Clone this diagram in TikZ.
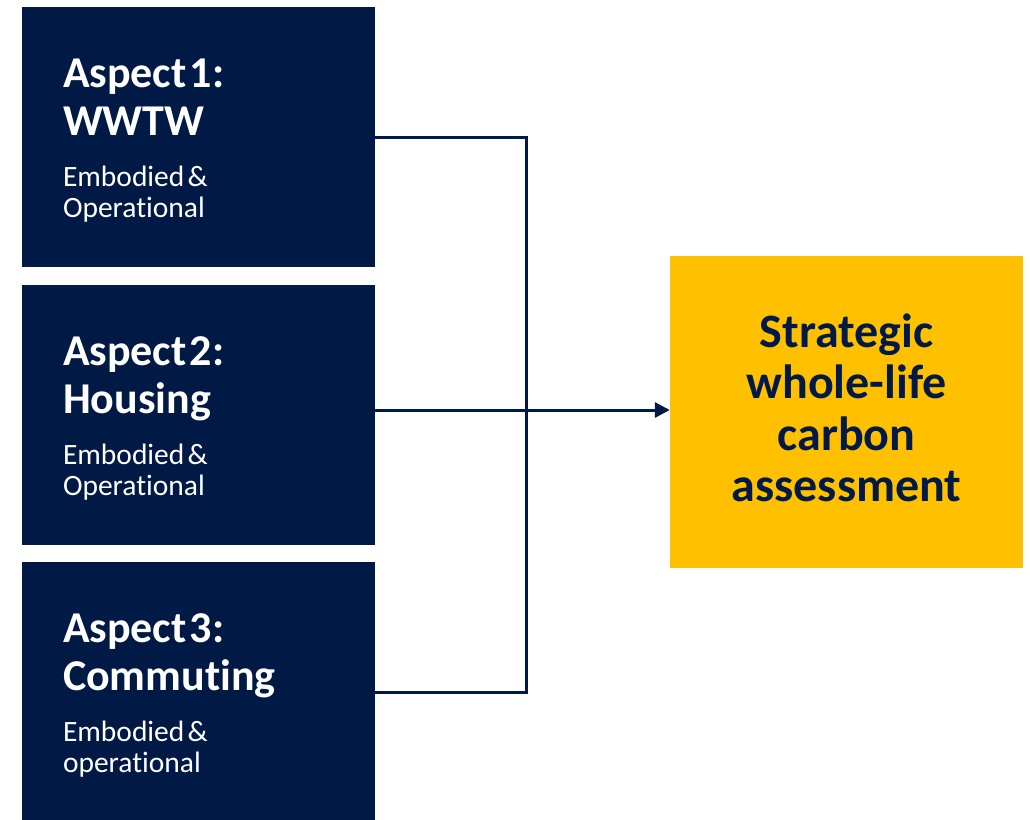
\documentclass[tikz,border=0pt]{standalone}
\usepackage{fontspec}
\setmainfont{Carlito}[Ligatures=NoCommon, Contextuals=NoAlternate]
\usetikzlibrary{arrows.meta}
\definecolor{navy}{HTML}{001A45}
\definecolor{amber}{HTML}{FFC000}
\newcommand{\aspecttext}[3]{%
	{\fontsize{44}{48}\selectfont\bfseries #1\\#2\par}\vspace{20pt}%
	{\fontsize{29.5}{31}\selectfont #3\par}}
\begin{document}
\begin{tikzpicture}[
				x=1pt, y=-1pt,
				aspect/.style={rectangle, fill=navy, text=white, minimum width=353pt, text width=271pt, inner xsep=41pt, inner ysep=0pt, text height=80pt, text depth=180pt, align=left},
				target/.style={rectangle, fill=amber, text=navy, minimum width=353pt, text width=330pt, inner xsep=11.5pt, inner ysep=0pt, text height=91pt, text depth=221pt, align=center, font=\fontsize{48}{51.5}\selectfont\bfseries},
				link/.style={draw=navy, line width=3pt}
				]
			\useasboundingbox (0,0) rectangle (1030,819);
			\node [aspect] (wwtw) at (198.5,137) {\aspecttext{Aspect 1:}{WWTW}{Embodied \&\\Operational}};
			\node [aspect] (housing) at (198.5,415) {\aspecttext{Aspect 2:}{Housing}{Embodied \&\\Operational}};
			\node [aspect] (commuting) at (198.5,692) {\aspecttext{Aspect 3:}{Commuting}{Embodied \&\\operational}};
			\node [target] (wlc) at (846.5,412) {Strategic\\whole-life\\carbon\\assessment};
			\coordinate (spine) at (526,410);
			\draw [link] (wwtw.east) -| (spine) |- (commuting.east);
			\draw [link, -{Triangle[length=15pt, width=15pt]}] (housing.east |- spine) -- (wlc.west |- spine);
			\end{tikzpicture}
\end{document}
